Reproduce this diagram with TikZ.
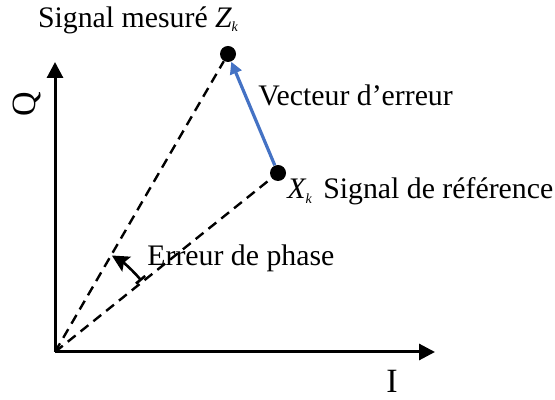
\documentclass[tikz,border=0pt]{standalone}
\usepackage{fontspec}
\setmainfont{Liberation Serif}
\usetikzlibrary{arrows.meta}
\begin{document}
\begin{tikzpicture}[x=0.5pt,y=0.5pt,
  lbl/.style={font=\fontsize{14.9}{17}\selectfont, inner sep=0pt},
  axlbl/.style={font=\fontsize{17}{19}\selectfont, inner sep=0pt},
  dot/.style={circle, fill=black, minimum size=8pt, inner sep=0pt},
  axis/.style={line width=1.5pt, -{Triangle[length=8pt,width=8pt]}},
  dsh/.style={line width=1.2pt, dash pattern=on 5pt off 3.2pt},
  vec/.style={line width=1.6pt, draw={rgb,255:red,68;green,114;blue,196}, -{Triangle[length=6pt,width=6pt]}},
  ang/.style={line width=1.3pt, {Bar[width=6pt]}-{Stealth[length=8.5pt,width=8.5pt,inset=1.5pt]}}]
\useasboundingbox (0,0) rectangle (555,400);
\coordinate (O) at (55,48);
\coordinate (Qend) at (55,338);
\coordinate (Iend) at (435,48);
\node[dot] (Z) at (228,346) {};
\node[dot] (X) at (278,227) {};
\draw[axis] (O) -- (Qend);
\draw[axis] (O) -- (Iend);
\draw[dsh] (O) -- (Z);
\draw[dsh] (O) -- (X);
\draw[vec] (X) -- (Z);
\draw[ang] ([shift={(39.5:112)}]O) arc (39.5:59.5:112);
\node[lbl] (tZ) at (138,380) {Signal mesuré {\itshape Z}\raisebox{-0.35ex}{\scriptsize\itshape k}};
\node[lbl, anchor=west] (tV) at (258,305) {Vecteur d’erreur};
\node[lbl, anchor=west] (tX) at (287,209) {{\itshape X}\raisebox{-0.35ex}{\scriptsize\itshape k}\hspace{2pt} Signal de référence};
\node[lbl, anchor=west] (tE) at (147,142) {Erreur de phase};
\node[axlbl, rotate=90] (tQ) at (27,296) {Q};
\node[axlbl] (tI) at (392,19) {I};
\end{tikzpicture}
\end{document}
